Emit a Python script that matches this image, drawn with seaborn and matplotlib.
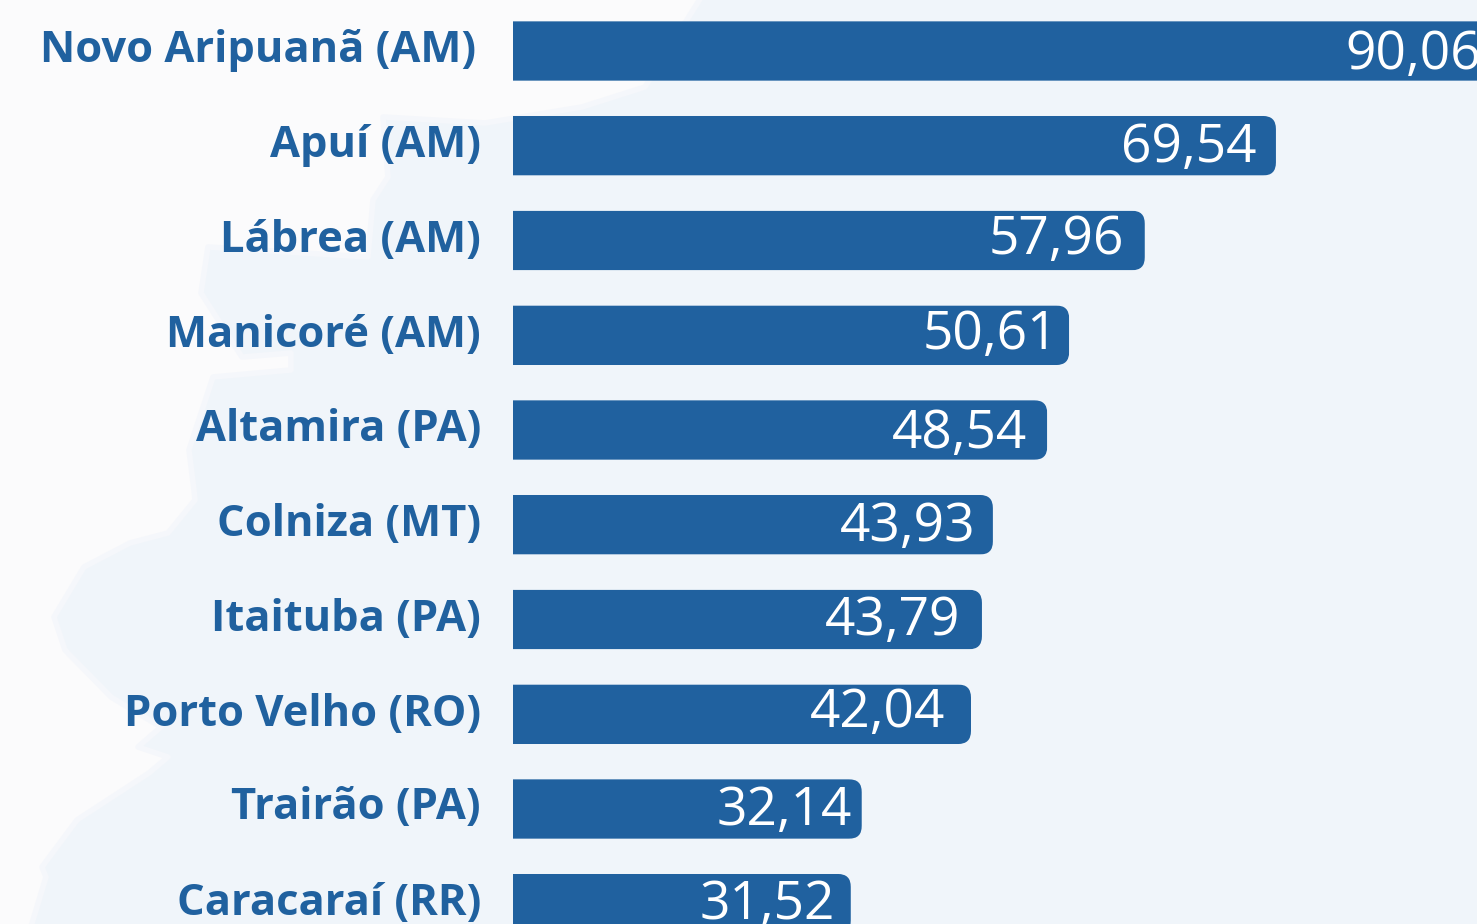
import matplotlib
matplotlib.use("Agg")
import matplotlib.pyplot as plt
import seaborn as sns
import pandas as pd
from matplotlib.patches import FancyBboxPatch, Polygon
from matplotlib.transforms import IdentityTransform

# Chart values
cities = ["Novo Aripuanã (AM)", "Apuí (AM)", "Lábrea (AM)", "Manicoré (AM)", "Altamira (PA)",
          "Colniza (MT)", "Itaituba (PA)", "Porto Velho (RO)", "Trairão (PA)", "Caracaraí (RR)"]
values = [90.06, 69.54, 57.96, 50.61, 48.54, 43.93, 43.79, 42.04, 32.14, 31.52]
value_labels = ["90,06", "69,54", "57,96", "50,61", "48,54", "43,93", "43,79", "42,04", "32,14", "31,52"]
# drawn bar lengths (they differ a little from the printed numbers)
bar_lengths = [90.2, 69.55, 57.6, 50.7, 48.7, 43.75, 42.75, 41.75, 31.8, 30.8]

# small text shifts, px: label up, value up, value right
label_up = [1, 0, 0, 0, 1, 0, 0, 0, 1, 0]
label_right = [-5, 0, 0, 0, 0, 0, 0, 0, 0, 0]
value_up = [-3.75, -2, 0, -0.5, -3.75, -2, -1.25, 0.5, -2.75, -1]
value_right = [-1, 1, -1, 9, 0, 3, -2, -6, 10, 4]

BLUE = "#20619f"
W, H = 1477, 924
PX_PER_UNIT = 10.97
X0, Y0, PITCH = 513, 51, 94.75
PT = 0.72  # points per pixel at dpi 100

sns.set_style("white")
plt.rcParams["font.family"] = ["Open Sans", "DejaVu Sans"]

fig = plt.figure(figsize=(W / 100, H / 100), dpi=100, facecolor="#fbfbfc")
ax = fig.add_axes([0, 0, 1, 1])
ax.patch.set_alpha(0)

# pale map shape in the background (figure pixels, y from the top)
map_outline = [(712, -20), (1500, -20), (1500, 950), (24, 950), (46, 877), (42, 867), (77, 820),
               (149, 773), (168, 757), (138, 747), (161, 727), (111, 697), (65, 650), (54, 617),
               (84, 567), (130, 543), (168, 533), (195, 500), (194, 490), (189, 450), (213, 377),
               (291, 370), (291, 353), (242, 357), (201, 293), (208, 247), (368, 257), (373, 200),
               (388, 177), (383, 117), (485, 123), (582, 107), (645, 87), (690, 15)]
map_xy = [(x / W, 1 - y / H) for x, y in map_outline]
fig.patches.append(Polygon(map_xy, closed=True, transform=fig.transFigure, facecolor="#f0f5fa",
                           edgecolor="#f5f7fb", linewidth=4, joinstyle="round", zorder=-5))

df = pd.DataFrame({"city": cities, "length": bar_lengths})
sns.barplot(data=df, x="length", y="city", color=BLUE, saturation=1, width=59.6 / PITCH, ax=ax)

ax.set_xlim(-X0 / PX_PER_UNIT, (W - X0) / PX_PER_UNIT)
ax.set_ylim((H - Y0) / PITCH, -Y0 / PITCH)
ax.set_xlabel("")
ax.set_ylabel("")
ax.set_xticks([])
ax.set_yticks([])
sns.despine(ax=ax, left=True, bottom=True, top=True, right=True)

# round only the right-hand corners by clipping each bar
for bar in ax.patches:
    bar.set_snap(False)
    bar.set_linewidth(0)
    (x1, y1), (x2, y2) = ax.transData.transform(
        [(bar.get_x(), bar.get_y()), (bar.get_x() + bar.get_width(), bar.get_y() + bar.get_height())])
    low, high = min(y1, y2), max(y1, y2)
    clip = FancyBboxPatch((x1 - 30, low), x2 - x1 + 30, high - low,
                          boxstyle="round,pad=0,rounding_size=13", transform=IdentityTransform())
    bar.set_clip_path(clip)

# category labels left of the bars
for i, city in enumerate(cities):
    ax.annotate(city, (0, i), xytext=((-32 + label_right[i]) * PT, label_up[i] * PT),
                textcoords="offset points", ha="right", va="center", color=BLUE,
                fontsize=31.3, fontweight="bold", annotation_clip=False)

# value labels inside the bars
for i, (txt, length) in enumerate(zip(value_labels, bar_lengths)):
    ax.annotate(txt, (length, i), xytext=((-20 + value_right[i]) * PT, value_up[i] * PT),
                textcoords="offset points", ha="right", va="center", color="white",
                fontsize=38.3, annotation_clip=False)

fig.savefig("out.png", dpi=100, facecolor=fig.get_facecolor())
